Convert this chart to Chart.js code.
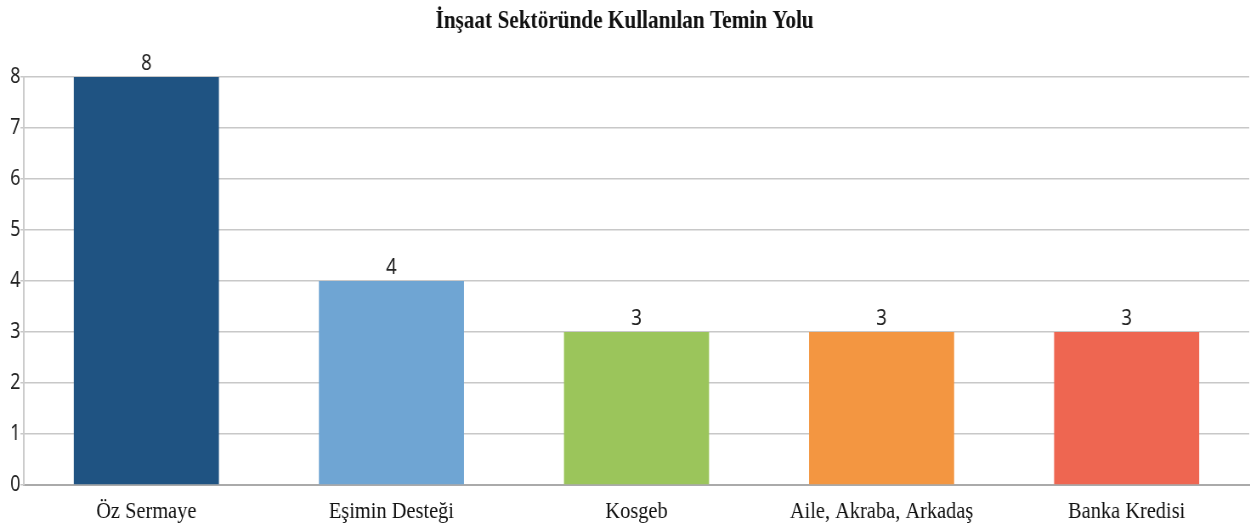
<!DOCTYPE html>
<html lang="tr">
<head>
<meta charset="utf-8">
<title>İnşaat Sektöründe Kullanılan Temin Yolu</title>
<script src="https://cdn.jsdelivr.net/npm/chart.js@4/dist/chart.umd.min.js"></script>
<style>
  html, body { margin: 0; padding: 0; background: #fff; overflow: hidden; }
  /* the original is squeezed horizontally, so draw wide and scale down */
  #wrap { width: 1471px; height: 524px; transform: scaleX(0.8498); transform-origin: 0 0; }
</style>
</head>
<body>
<div id="wrap"><canvas id="chart"></canvas></div>
<script>
// ── Data ─────────────────────────────────────────────────────
const categories = ['Öz Sermaye', 'Eşimin Desteği', 'Kosgeb', 'Aile, Akraba, Arkadaş', 'Banka Kredisi'];
const values = [8, 4, 3, 3, 3];
const barColors = ['#1F5382', '#6FA5D3', '#9BC55B', '#F39641', '#EE6651'];
const yTicks = [0, 1, 2, 3, 4, 5, 6, 7, 8];

const numFont = '"Noto Sans", "DejaVu Sans", sans-serif';
const serifFont = '"Liberation Serif", "DejaVu Serif", serif';

// ── Value labels above bars ──────────────────────────────────
const valueLabels = {
  id: 'valueLabels',
  afterDatasetsDraw(chart) {
    const { ctx } = chart;
    const meta = chart.getDatasetMeta(0);
    ctx.save();
    ctx.font = '22px ' + numFont;
    ctx.fillStyle = '#222';
    ctx.textAlign = 'center';
    ctx.textBaseline = 'bottom';
    meta.data.forEach((bar, i) => {
      ctx.fillText(String(values[i]), bar.x, bar.y - 2);
    });
    ctx.restore();
  }
};

// ── Chart ────────────────────────────────────────────────────
new Chart(document.getElementById('chart'), {
  type: 'bar',
  data: {
    labels: categories,
    datasets: [{
      data: values,
      backgroundColor: barColors,
      borderWidth: 0,
      categoryPercentage: 1,
      barPercentage: 0.592
    }]
  },
  options: {
    responsive: true,
    maintainAspectRatio: false,
    animation: false,
    layout: { padding: { left: 0, right: 1, top: 0, bottom: 0 } },
    plugins: {
      legend: { display: false },
      tooltip: { enabled: false },
      title: {
        display: true,
        text: 'İnşaat Sektöründe Kullanılan Temin Yolu',
        color: '#111',
        font: { family: serifFont, size: 25, weight: 'bold' },
        padding: { top: 7, bottom: 40 }
      }
    },
    scales: {
      x: {
        grid: { display: false },
        border: { color: '#aaaaaa', width: 2 },
        ticks: {
          color: '#111',
          padding: 4,
          maxRotation: 0,
          font: { family: serifFont, size: 24 }
        },
        afterFit(s) { s.height = 39; }
      },
      y: {
        min: 0,
        max: 8,
        afterBuildTicks(s) { s.ticks = yTicks.map(v => ({ value: v })); },
        grid: { color: '#c8c8c8', lineWidth: 1.5, tickLength: 4 },
        border: { color: '#cccccc', width: 2 },
        ticks: {
          color: '#222',
          padding: 0,
          font: { family: numFont, size: 21 }
        },
        afterFit(s) { s.width = 28; }
      }
    }
  },
  plugins: [valueLabels]
});
</script>
</body>
</html>
